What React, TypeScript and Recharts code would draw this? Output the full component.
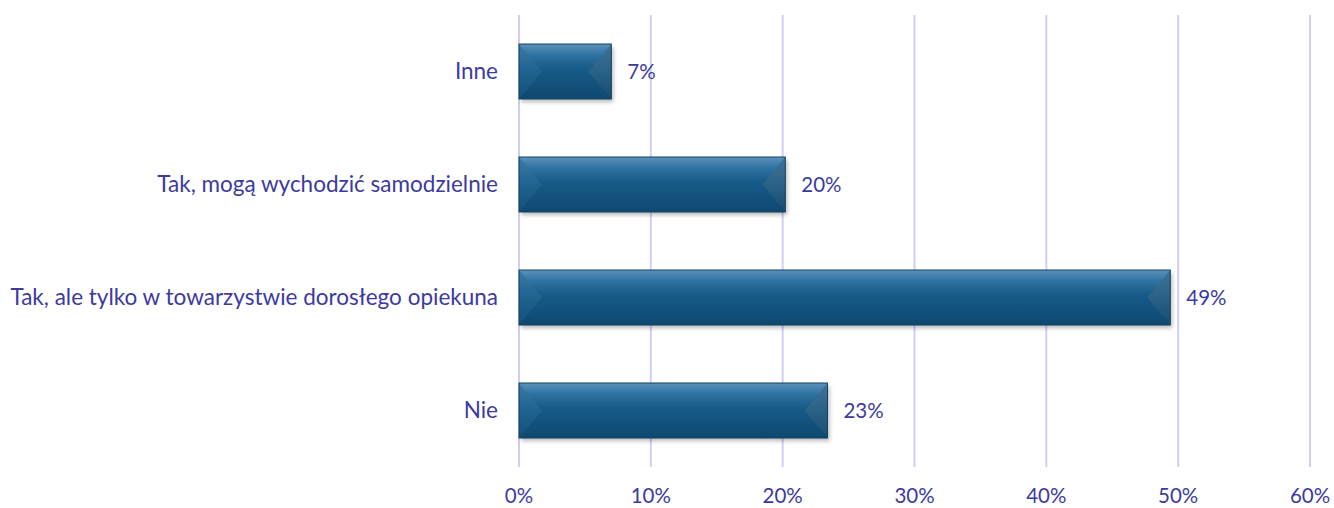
import { Bar, BarChart, CartesianGrid, LabelList, XAxis, YAxis } from "recharts";

const categories = [
  "Inne",
  "Tak, mogą wychodzić samodzielnie",
  "Tak, ale tylko w towarzystwie dorosłego opiekuna",
  "Nie",
];
const values = [7, 20.2, 49.4, 23.4];
const xTicks = [0, 10, 20, 30, 40, 50, 60];

const TEXT = "#3C3AA0";
const FONT = "Lato, 'Open Sans', sans-serif";

const data = categories.map((name, i) => ({ name, value: values[i] }));

// slupek z efektem "bevel" jak w Excelu
function BevelBar(props: any) {
  const { x, y, width, height } = props;
  if (!width || width <= 0) return null;
  const b = Math.min(width / 2, 23);
  const r = x + width;
  const bt = y + height;
  const mid = y + height / 2;
  return (
    <g>
      <rect x={x + 2} y={y + 3} width={width} height={height} fill="#000" opacity={0.28} filter="url(#barBlur)" />
      <rect x={x} y={y} width={width} height={height} fill="url(#faceGrad)" />
      <polygon points={`${x},${y} ${x + b},${mid} ${x},${bt}`} fill="url(#leftGrad)" />
      <polygon points={`${r},${y} ${r - b},${mid} ${r},${bt}`} fill="url(#rightGrad)" />
      <rect x={x} y={y} width={width} height={height} fill="none" stroke="#14425f" strokeWidth={1} />
    </g>
  );
}

export default function App() {
  return (
    <div style={{ position: "absolute", left: 0, top: 0, background: "#fff" }}>
      <BarChart
        width={1334}
        height={508}
        data={data}
        layout="vertical"
        margin={{ top: 15, right: 24, bottom: 11, left: 0 }}
        barCategoryGap={29}
      >
        <defs>
          <linearGradient id="faceGrad" x1="0" y1="0" x2="0" y2="1">
            <stop offset="0%" stopColor="#5a93bc" />
            <stop offset="20%" stopColor="#3072a0" />
            <stop offset="45%" stopColor="#175b89" />
            <stop offset="100%" stopColor="#0e4870" />
          </linearGradient>
          <linearGradient id="leftGrad" x1="0" y1="0" x2="0" y2="1">
            <stop offset="0%" stopColor="#3c7aa7" />
            <stop offset="50%" stopColor="#1f6390" />
            <stop offset="100%" stopColor="#154f78" />
          </linearGradient>
          <linearGradient id="rightGrad" x1="0" y1="0" x2="0" y2="1">
            <stop offset="0%" stopColor="#3f7397" />
            <stop offset="50%" stopColor="#2a6286" />
            <stop offset="100%" stopColor="#164c70" />
          </linearGradient>
          <filter id="barBlur" x="-10%" y="-20%" width="120%" height="150%">
            <feGaussianBlur stdDeviation={2} />
          </filter>
        </defs>
        <CartesianGrid horizontal={false} stroke="#d4cdf3" strokeWidth={2} />
        <XAxis
          type="number"
          domain={[0, 60]}
          ticks={xTicks}
          tickFormatter={(v: number) => `${v}%`}
          axisLine={false}
          tickLine={false}
          tickSize={19}
          height={30}
          tick={{ fill: TEXT, fontSize: 20.5, fontFamily: FONT }}
        />
        <YAxis
          type="category"
          dataKey="name"
          width={519}
          axisLine={false}
          tickLine={false}
          tickSize={19}
          tick={{ fill: TEXT, fontSize: 22.5, fontFamily: FONT }}
        />
        <Bar dataKey="value" shape={<BevelBar />} isAnimationActive={false}>
          <LabelList
            dataKey="value"
            position="right"
            offset={16}
            formatter={(v: number) => `${Math.round(v)}%`}
            style={{ fill: TEXT, fontSize: 20.5, fontFamily: FONT }}
          />
        </Bar>
      </BarChart>
    </div>
  );
}
